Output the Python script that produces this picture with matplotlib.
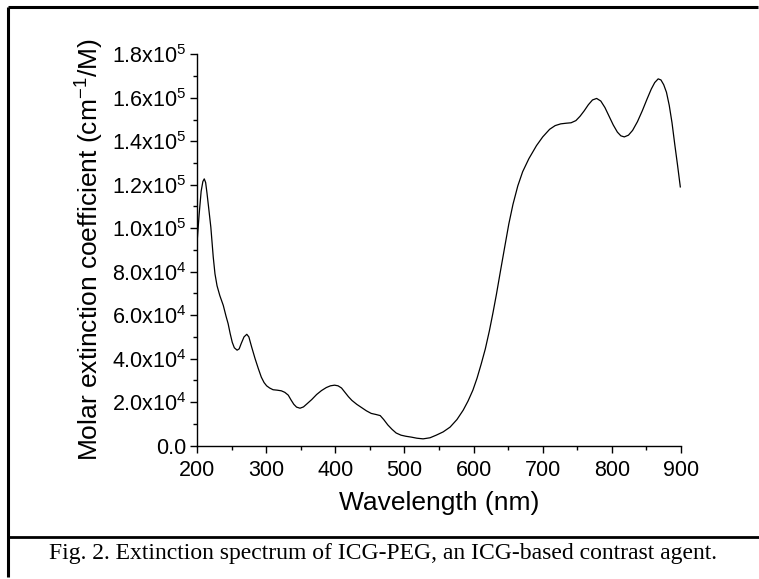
import numpy as np
import matplotlib
matplotlib.use("Agg")
import matplotlib.pyplot as plt
from matplotlib.lines import Line2D
from matplotlib.ticker import MultipleLocator, FuncFormatter

plt.rcParams['font.family'] = ['Liberation Sans', 'DejaVu Sans']
plt.rcParams['mathtext.fontset'] = 'custom'
plt.rcParams['mathtext.rm'] = 'Liberation Sans'
plt.rcParams['mathtext.it'] = 'Liberation Sans:italic'
plt.rcParams['mathtext.bf'] = 'Liberation Sans:bold'

# spectrum (nm, M^-1 cm^-1)
wavelength = [200, 203, 206, 208.5, 210.5, 212.5, 214.5, 217, 220, 223.5, 226, 229,
              233, 238, 242, 245, 248, 251, 254, 258, 261, 264, 268, 272, 275, 279,
              284, 288.6, 293, 297, 300.7, 305, 310, 316, 322, 327, 332, 336, 340,
              344, 349, 354, 359, 366, 373, 380, 387, 393, 399, 404, 409, 414, 419,
              424, 431, 438, 445, 452, 459, 465, 470, 476, 482, 488, 495, 502, 510,
              518, 527, 537, 546, 556, 566, 576, 585, 592, 599, 605, 611, 617, 623,
              628, 633, 639, 645, 651, 657, 664, 671, 680, 691, 700, 710, 718, 726,
              734, 741, 748, 754, 760, 766, 772, 778, 784, 790, 796, 802, 808, 813,
              818, 824, 830, 837, 844, 851, 857, 862, 867, 871, 875, 879, 883, 887,
              891, 895, 899]
extinction = [9.3e4, 10.6e4, 11.7e4, 12.15e4, 12.27e4, 12.1e4, 11.6e4, 10.9e4, 10.05e4,
              8.67e4, 7.9e4, 7.35e4, 6.9e4, 6.45e4, 5.95e4, 5.61e4, 5.15e4, 4.75e4,
              4.5e4, 4.39e4, 4.45e4, 4.7e4, 5.0e4, 5.12e4, 5.0e4, 4.54e4, 4.0e4,
              3.55e4, 3.15e4, 2.9e4, 2.75e4, 2.65e4, 2.57e4, 2.55e4, 2.52e4, 2.45e4,
              2.32e4, 2.1e4, 1.9e4, 1.77e4, 1.72e4, 1.78e4, 1.92e4, 2.12e4, 2.35e4,
              2.53e4, 2.67e4, 2.75e4, 2.78e4, 2.75e4, 2.65e4, 2.45e4, 2.25e4, 2.08e4,
              1.9e4, 1.75e4, 1.6e4, 1.48e4, 1.43e4, 1.38e4, 1.2e4, 0.95e4, 0.75e4,
              0.58e4, 0.48e4, 0.43e4, 0.39e4, 0.34e4, 0.31e4, 0.36e4, 0.48e4, 0.63e4,
              0.85e4, 1.2e4, 1.63e4, 2.05e4, 2.55e4, 3.1e4, 3.75e4, 4.45e4, 5.3e4,
              6.1e4, 6.95e4, 8.05e4, 9.13e4, 10.2e4, 11.1e4, 11.95e4, 12.6e4, 13.2e4,
              13.8e4, 14.2e4, 14.55e4, 14.72e4, 14.8e4, 14.83e4, 14.85e4, 14.95e4,
              15.15e4, 15.4e4, 15.68e4, 15.9e4, 15.97e4, 15.85e4, 15.55e4, 15.15e4,
              14.75e4, 14.42e4, 14.25e4, 14.2e4, 14.28e4, 14.5e4, 14.9e4, 15.4e4,
              15.95e4, 16.4e4, 16.7e4, 16.87e4, 16.82e4, 16.6e4, 16.25e4, 15.65e4,
              14.85e4, 13.85e4, 12.9e4, 11.9e4]

x_ticks = [200, 300, 400, 500, 600, 700, 800, 900]
y_ticks = [0, 2e4, 4e4, 6e4, 8e4, 1e5, 1.2e5, 1.4e5, 1.6e5, 1.8e5]
caption = "Fig. 2. Extinction spectrum of ICG-PEG, an ICG-based contrast agent."

W, H = 759, 579
fig = plt.figure(figsize=(W / 100, H / 100), dpi=100)
ax = fig.add_axes([197 / W, 1 - 445.6 / H, (681 - 197) / W, (445.6 - 54.3) / H])

ax.plot(wavelength, extinction, color='black', lw=0.9)

ax.set_xlim(200, 900)
ax.set_ylim(0, 1.8e5)
ax.set_xticks(x_ticks)
ax.set_yticks(y_ticks)
ax.xaxis.set_minor_locator(MultipleLocator(50))
ax.yaxis.set_minor_locator(MultipleLocator(1e4))


def sci_fmt(v, pos):
    if v == 0:
        return "0.0"
    e = int(np.floor(np.log10(v)))
    m = v / 10 ** e
    return r"$\mathregular{%.1fx10^{%d}}$" % (m, e)


ax.yaxis.set_major_formatter(FuncFormatter(sci_fmt))

for s in ['top', 'right']:
    ax.spines[s].set_visible(False)
for s in ['left', 'bottom']:
    ax.spines[s].set_linewidth(1.0)

ax.tick_params(which='major', direction='out', length=4.8, width=1.0, labelsize=15.5)
ax.tick_params(which='minor', direction='out', length=2.6, width=1.0)
ax.tick_params(axis='x', which='major', pad=5.5)
ax.tick_params(axis='y', which='major', pad=3)

ax.set_xlabel("Wavelength (nm)", fontsize=19, labelpad=7)
ax.set_ylabel("Molar extinction coefficient (cm$^{-1}$/M)", fontsize=19, labelpad=4)

# frame and caption box
def px_line(x0, y0, x1, y1, lw):
    fig.add_artist(Line2D([x0 / W, x1 / W], [1 - y0 / H, 1 - y1 / H],
                          transform=fig.transFigure, color='black', lw=lw,
                          solid_capstyle='butt'))


px_line(8.3, 7.3, 758, 7.3, 2.2)
px_line(8.3, 7.3, 8.3, 577, 2.2)
px_line(8.3, 537.3, 759, 537.3, 2.0)

fig.text(383 / W, 1 - 559 / H, caption, family=['Liberation Serif', 'DejaVu Serif'],
         fontsize=17, ha='center', va='baseline')

fig.savefig("out.png", dpi=100)
